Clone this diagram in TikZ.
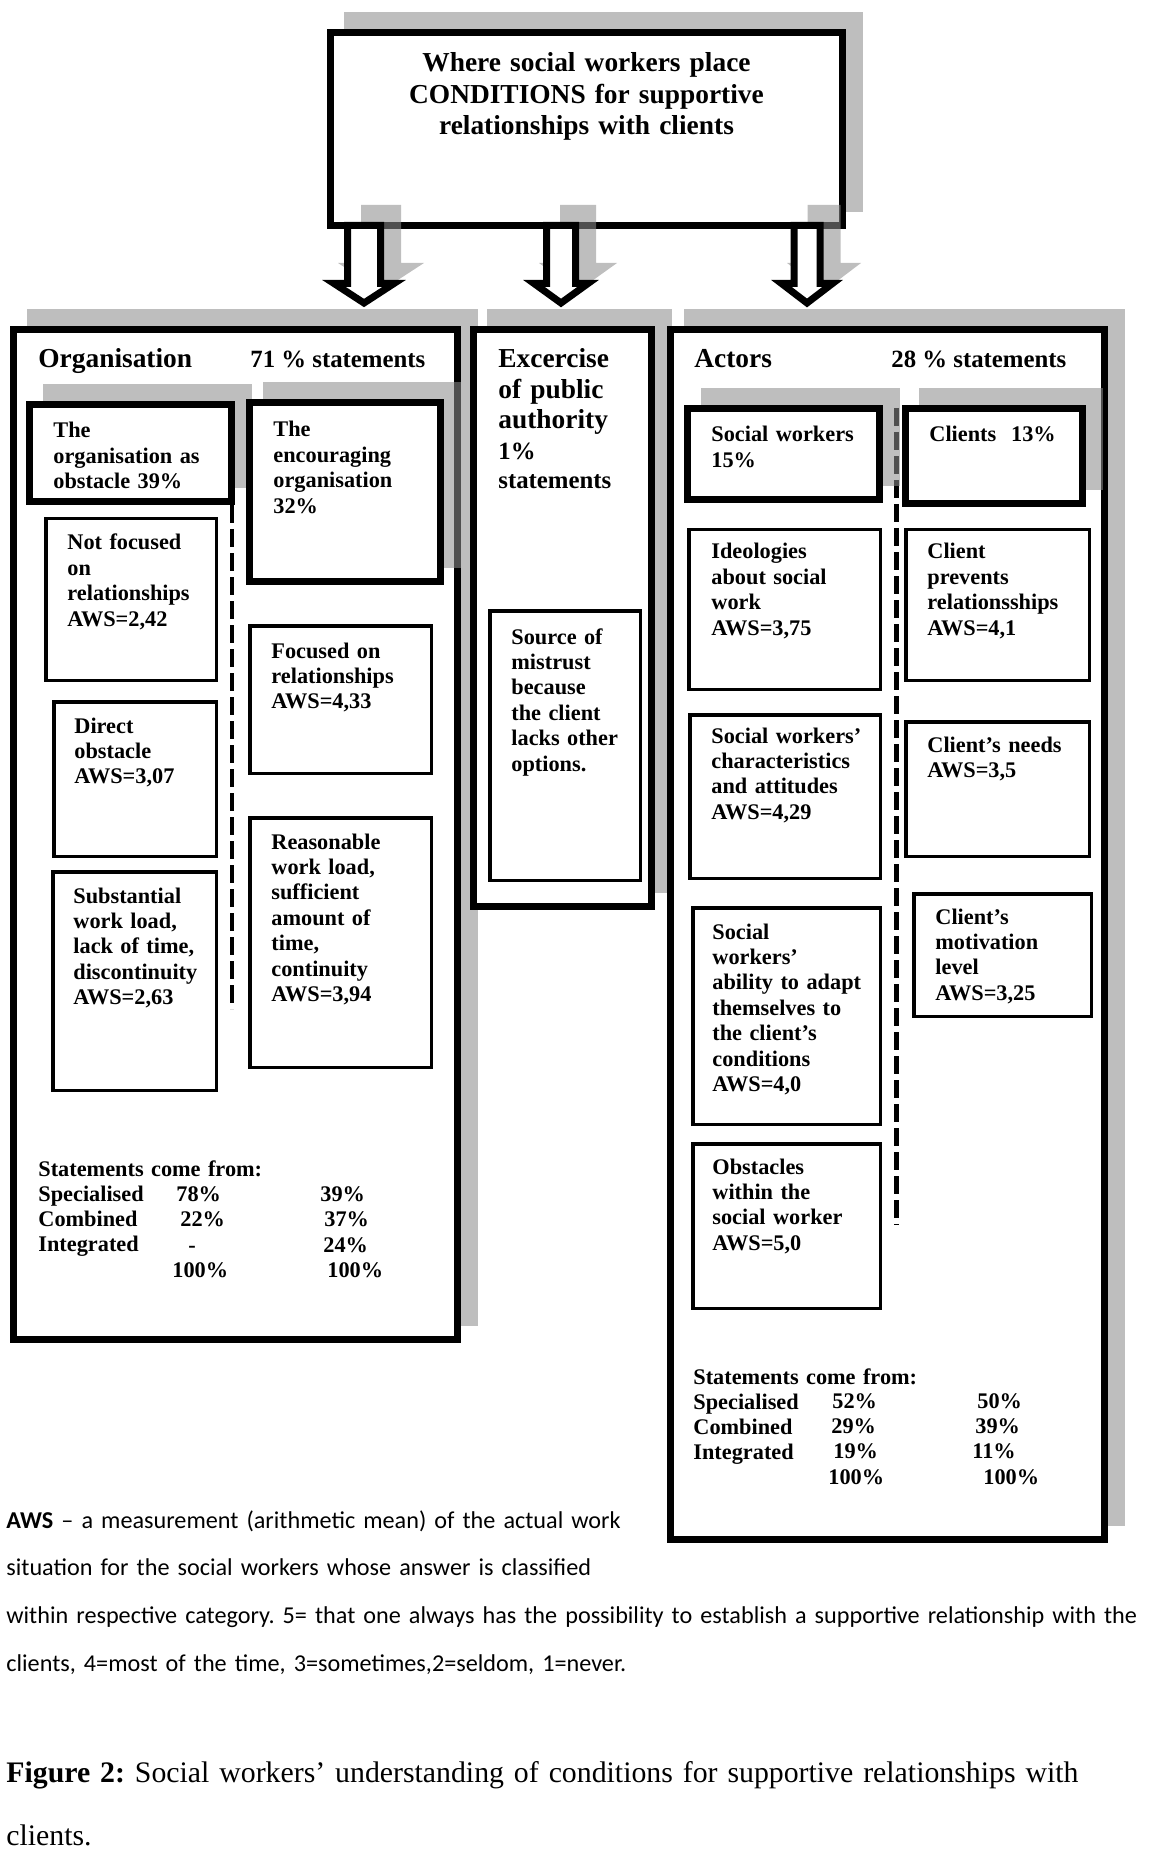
\documentclass[tikz,border=0pt]{standalone}
\usepackage{fontspec}
\setmainfont{Liberation Serif}
\newfontfamily\notefont{Carlito}
\usetikzlibrary{fit}
\begin{document}
\frenchspacing
\begin{tikzpicture}[x=0.5pt,y=-0.5pt,
  shadowfill/.style={fill=black!45, fill opacity=0.565, draw=none},
  panelbox/.style={draw, line width=3.5pt, fill=white, inner sep=0pt},
  heavybox/.style={draw, line width=3.5pt, fill=white, inner sep=0pt},
  thinbox/.style={draw, line width=1.75pt, fill=white, inner sep=0pt},
  divider/.style={line width=2.2pt, dash pattern=on 9pt off 3pt},
  blockarrow/.style={draw, line width=3.5pt, fill=white, line join=miter},
  boxtext/.style={anchor=base west, inner sep=0pt, text width=160pt, align=left,
    font=\fontsize{11.15}{12.7}\selectfont\bfseries},
  headtext/.style={anchor=base west, inner sep=0pt, font=\fontsize{13.7}{15.3}\selectfont\bfseries},
  pcttext/.style={anchor=base west, inner sep=0pt, font=\fontsize{12.4}{14.5}\selectfont\bfseries},
  stattext/.style={anchor=base west, inner sep=0pt, font=\fontsize{11.15}{12.6}\selectfont\bfseries},
]
\useasboundingbox (0,0) rectangle (1153,1871);

% ---- shadows of top box and panels
\fill[shadowfill] (344,12) rectangle (863,212);
\fill[shadowfill] (27,309) rectangle (478,1326);
\fill[shadowfill] (487,309) rectangle (672,893);
\fill[shadowfill] (684,309) rectangle (1125,1526);

% ---- panels
\node[panelbox, fit={(13.5,329.5) (457.5,1339.5)}] (org) {};
\node[panelbox, fit={(473.5,329.5) (651.5,906.5)}] (exc) {};
\node[panelbox, fit={(670.5,329.5) (1104.5,1539.5)}] (act) {};

% ---- top box
\node[heavybox, fit={(330.5,32.5) (842.5,225.5)}] (top) {};

% ---- arrow shadows
\fill[shadowfill] (361,205) -- (361,263) -- (338,263) -- (381,291) -- (424,263) -- (401,263) -- (401,205) -- cycle;
\fill[shadowfill] (560,205) -- (560,263) -- (539,263) -- (578,291) -- (617,263) -- (596,263) -- (596,205) -- cycle;
\fill[shadowfill] (807.5,205) -- (807.5,263) -- (787,263) -- (824,291) -- (861,263) -- (840.5,263) -- (840.5,205) -- cycle;

% ---- block arrows
\draw[blockarrow] (347.5,225.5) -- (347.5,283.5) -- (334,283.5) -- (364,303) -- (394,283.5) -- (380.5,283.5) -- (380.5,225.5) -- cycle;
\draw[blockarrow] (546.5,225.5) -- (546.5,283.5) -- (534,283.5) -- (561,303) -- (588,283.5) -- (575.5,283.5) -- (575.5,225.5) -- cycle;
\draw[blockarrow] (794,225.5) -- (794,283.5) -- (781.5,283.5) -- (807,303) -- (832.5,283.5) -- (820,283.5) -- (820,225.5) -- cycle;

% ---- dashed dividers
\coordinate (d1a) at (232,505); \coordinate (d1b) at (232,1009);
\coordinate (d2a) at (896.5,408); \coordinate (d2b) at (896.5,1225);
\draw[divider] (d1a) -- (d1b);
\draw[divider] (d2a) -- (d2b);

% ---- shadows of heavy sub boxes
\fill[shadowfill] (43,384) rectangle (252,488);
\fill[shadowfill] (263,382) rectangle (461,568);
\fill[shadowfill] (701,388) rectangle (900,486);
\fill[shadowfill] (919,388) rectangle (1103,490);

% ---- heavy sub boxes
\node[heavybox, fit={(29.5,404.5) (231.5,501.5)}] (obst) {};
\node[heavybox, fit={(249.5,402.5) (440.5,581.5)}] (enc) {};
\node[heavybox, fit={(687.5,408.5) (879.5,499.5)}] (sw) {};
\node[heavybox, fit={(905.5,408.5) (1082.5,503.5)}] (cl) {};

% ---- thin boxes
\node[thinbox, fit={(45.75,518.75) (216.25,680.25)}] (nf) {};
\node[thinbox, fit={(53.75,701.75) (216.25,856.25)}] (dob) {};
\node[thinbox, fit={(52.75,871.75) (216.25,1090.25)}] (sub) {};
\node[thinbox, fit={(249.75,625.75) (431.25,773.25)}] (fo) {};
\node[thinbox, fit={(249.75,817.75) (431.25,1067.25)}] (rw) {};
\node[thinbox, fit={(489.75,610.75) (640.25,880.25)}] (src) {};
\node[thinbox, fit={(688.75,529.75) (880.25,689.25)}] (ide) {};
\node[thinbox, fit={(689.75,714.75) (880.25,878.25)}] (char) {};
\node[thinbox, fit={(692.75,907.75) (880.25,1124.25)}] (abil) {};
\node[thinbox, fit={(692.75,1143.75) (880.25,1308.25)}] (obw) {};
\node[thinbox, fit={(905.75,529.75) (1089.25,680.25)}] (cp) {};
\node[thinbox, fit={(905.75,721.75) (1089.25,856.25)}] (cn) {};
\node[thinbox, fit={(913.75,893.75) (1091.25,1016.25)}] (cm) {};

% ---- title
\node[anchor=base, inner sep=0pt, text width=260pt, align=center,
  font=\fontsize{13.7}{15.75}\selectfont\bfseries] (title) at (586.5,72)
  {Where social workers place\\CONDITIONS for supportive\\relationships with clients};

% ---- Organisation
\node[headtext] (orgh) at (38,368) {Organisation};
\node[pcttext] (orgp) at (250,368) {71 \% statements};
\node[boxtext] (obstt) at (53,438) {The\\organisation as\\obstacle 39\%};
\node[boxtext] (enct) at (273,437) {The\\encouraging\\organisation\\32\%};
\node[boxtext] (nft) at (67,550) {Not focused\\on\\relationships\\AWS=2,42};
\node[boxtext] (dot) at (74,733) {Direct\\obstacle\\AWS=3,07};
\node[boxtext] (subt) at (73,903) {Substantial\\work load,\\lack of time,\\discontinuity\\AWS=2,63};
\node[boxtext] (fot) at (271,658) {Focused on\\relationships\\AWS=4,33};
\node[boxtext] (rwt) at (271,849) {Reasonable\\work load,\\sufficient\\amount of\\time,\\continuity\\AWS=3,94};

\node[boxtext, font=\fontsize{11.15}{12.6}\selectfont\bfseries] (orgs) at (38,1176) {Statements come from:\\Specialised\\Combined\\Integrated};
\node[stattext] (o1a) at (176,1201) {78\%};
\node[stattext] (o1b) at (180,1226) {22\%};
\node[stattext] (o1c) at (188,1252) {-};
\node[stattext] (o1d) at (172,1277) {100\%};
\node[stattext] (o2a) at (320,1201) {39\%};
\node[stattext] (o2b) at (324,1226) {37\%};
\node[stattext] (o2c) at (323,1252) {24\%};
\node[stattext] (o2d) at (327,1277) {100\%};

% ---- Excercise
\node[headtext, text width=160pt, align=left, font=\fontsize{13.7}{15.25}\selectfont\bfseries] (exch) at (498,368) {Excercise\\of public\\authority};
\node[headtext, text width=160pt, align=left, font=\fontsize{12.4}{14.5}\selectfont\bfseries] (excp) at (498,460) {1\%\\statements};
\node[boxtext] (srct) at (511,644) {Source of\\mistrust\\because\\the client\\lacks other\\options.};

% ---- Actors
\node[headtext] (acth) at (694,368) {Actors};
\node[pcttext] (actp) at (891,368) {28 \% statements};
\node[boxtext] (swt) at (711,442) {Social workers\\15\%};
\node[boxtext] (clt) at (929,442) {Clients\ \ 13\%};
\node[boxtext] (idet) at (711,559) {Ideologies\\about social\\work\\AWS=3,75};
\node[boxtext] (chart) at (711,743) {Social workers’\\characteristics\\and attitudes\\AWS=4,29};
\node[boxtext] (abilt) at (712,939) {Social\\workers’\\ability to adapt\\themselves to\\the client’s\\conditions\\AWS=4,0};
\node[boxtext] (obwt) at (712,1174) {Obstacles\\within the\\social worker\\AWS=5,0};
\node[boxtext] (cpt) at (927,559) {Client\\prevents\\relationsships\\AWS=4,1};
\node[boxtext] (cnt) at (927,752) {Client’s needs\\AWS=3,5};
\node[boxtext] (cmt) at (935,924) {Client’s\\motivation\\level\\AWS=3,25};

\node[boxtext, font=\fontsize{11.15}{12.5}\selectfont\bfseries] (acts) at (693,1384) {Statements come from:\\Specialised\\Combined\\Integrated};
\node[stattext] (a1a) at (832,1408) {52\%};
\node[stattext] (a1b) at (831,1433) {29\%};
\node[stattext] (a1c) at (833,1458) {19\%};
\node[stattext] (a1d) at (828,1484) {100\%};
\node[stattext] (a2a) at (977,1408) {50\%};
\node[stattext] (a2b) at (975,1433) {39\%};
\node[stattext] (a2c) at (972,1458) {11\%};
\node[stattext] (a2d) at (983,1484) {100\%};

% ---- footnote and caption
\node[anchor=base west, inner sep=0pt, text width=640pt, align=left,
  font=\notefont\fontsize{12.1}{23.85}\selectfont] (note) at (6,1528)
  {\textbf{AWS} – a measurement (arithmetic mean) of the actual work\\
   situation for the social workers whose answer is classified\\
   within respective category. 5= that one always has the possibility to establish a supportive relationship with the\\
   clients, 4=most of the time, 3=sometimes,2=seldom, 1=never.};
\node[anchor=base west, inner sep=0pt, text width=640pt, align=left,
  font=\fontsize{14.9}{31.5}\selectfont] (cap) at (6,1782)
  {\textbf{Figure 2:} Social workers’ understanding of conditions for supportive relationships with\\clients.};
\end{tikzpicture}
\end{document}
